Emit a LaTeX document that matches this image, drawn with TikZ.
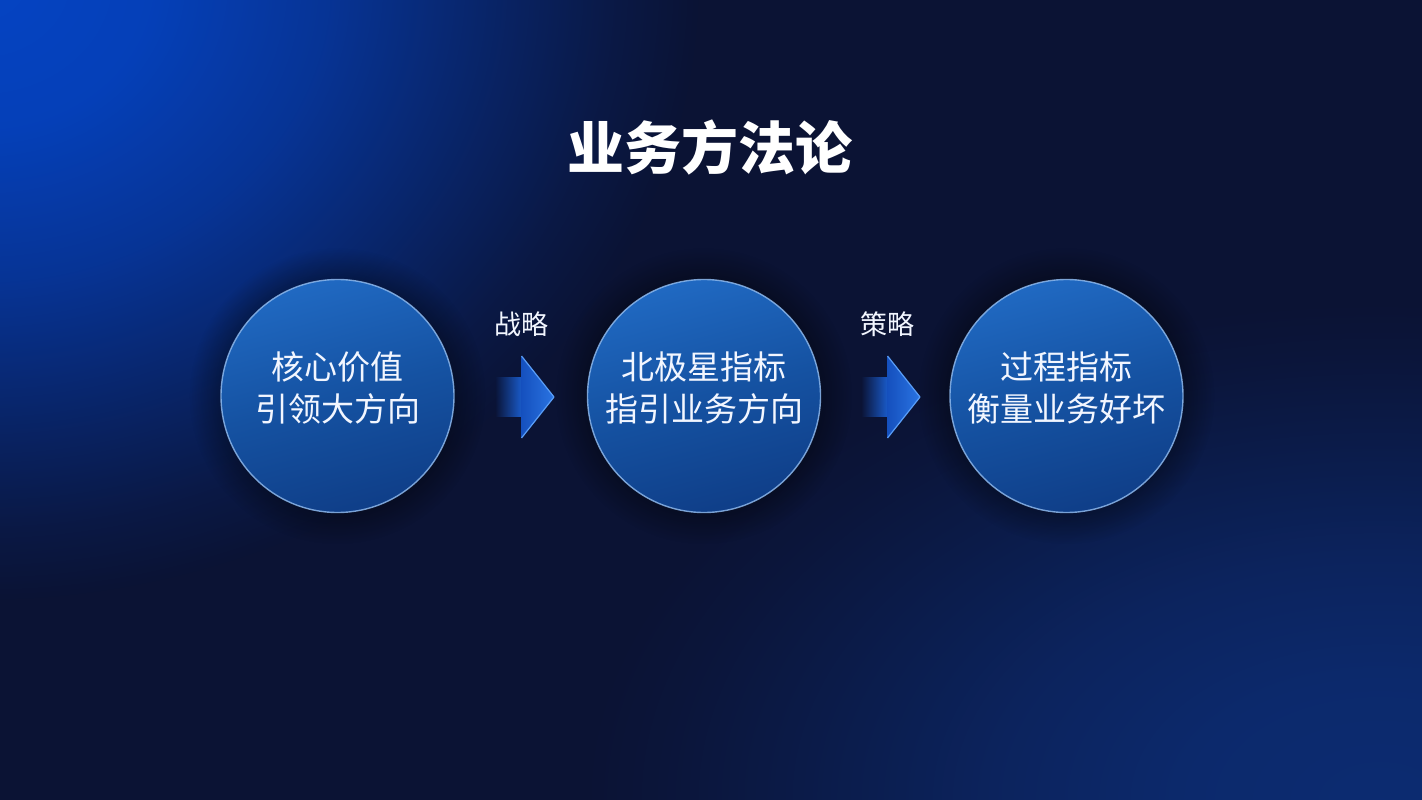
\documentclass[tikz,border=0pt]{standalone}
\usepackage{fontspec}
\newfontfamily\cjk{Noto Sans CJK SC}
\usetikzlibrary{fadings,calc}
\pgfdeclareradialshading{bigglowshade}{\pgfpointorigin}{color(0bp)=(pgftransparent!0); color(6bp)=(pgftransparent!8); color(12bp)=(pgftransparent!32); color(18bp)=(pgftransparent!66); color(22bp)=(pgftransparent!88); color(25bp)=(pgftransparent!100); color(50bp)=(pgftransparent!100)}
\pgfdeclarefading{bigglow}{\pgfuseshading{bigglowshade}}
\tikzfading[name=shaftfade, left color=transparent!100, right color=transparent!0]
\definecolor{bgbase}{HTML}{0B1334}
\definecolor{glowA}{HTML}{0544C4}
\definecolor{glowB}{HTML}{0D307C}
\definecolor{bubtop}{HTML}{2069C2}
\definecolor{bubmid}{HTML}{1552A2}
\definecolor{bubbot}{HTML}{0F3E88}
\definecolor{rimblue}{HTML}{8DB8EC}
\definecolor{arrowblue}{HTML}{1A5CCC}
\definecolor{arrowdark}{HTML}{1550BE}
\definecolor{arrowlight}{HTML}{2A74E2}
\definecolor{rimarrow}{HTML}{5A9EF8}
\definecolor{softwhite}{HTML}{F2F6FF}
\newcommand{\flowarrow}[1]{%
  \fill[arrowblue, path fading=shaftfade] ($(#1)+(-31,-20)$) rectangle ($(#1)+(-4,20)$);
  \fill[left color=arrowdark, right color=arrowlight] ($(#1)+(-4.5,-41)$) -- ($(#1)+(28,0)$) -- ($(#1)+(-4.5,41)$) -- cycle;
  \draw[rimarrow, line width=1.2pt, line join=round] ($(#1)+(-4.5,-41)$) -- ($(#1)+(28,0)$) -- ($(#1)+(-4.5,41)$);
}
\begin{document}
\begin{tikzpicture}[x=1pt,y=-1pt,
  bubble/.style={circle, minimum size=233pt, inner sep=0pt, draw=rimblue, draw opacity=0.85, line width=1.4pt,
    top color=bubtop, bottom color=bubbot, middle color=bubmid, shading angle=15},
  bubtext/.style={text=softwhite, align=center, font=\cjk\fontsize{33}{42}\selectfont, inner sep=0pt},
  titletext/.style={text=white, font=\cjk\bfseries\fontsize{57}{60}\selectfont, inner sep=0pt},
  steptext/.style={text=softwhite, font=\cjk\fontsize{27}{30}\selectfont, inner sep=0pt}]
\useasboundingbox (0,0) rectangle (1422,800);
% background
\fill[bgbase] (0,0) rectangle (1422,800);
\begin{scope}
\clip (0,0) rectangle (1422,800);
\fill[glowA, path fading=bigglow] (-20,-20) ellipse [x radius=720, y radius=620];
\fill[glowB, opacity=0.85, path fading=bigglow] (1380,800) ellipse [x radius=800, y radius=500];
\end{scope}
% shadows
\foreach \p in {(337.5,396),(704,396),(1066.5,396)}
  \fill[black, opacity=0.3, path fading=circle with fuzzy edge 20 percent] \p circle (148);
% circles
\node[bubble] (c1) at (337.5,396) {};
\node[bubble] (c2) at (704,396) {};
\node[bubble] (c3) at (1066.5,396) {};
\node[bubtext] (t1) at ([yshift=8pt]c1.center) {核心价值\\引领大方向};
\node[bubtext] (t2) at ([yshift=8pt]c2.center) {北极星指标\\指引业务方向};
\node[bubtext] (t3) at ([yshift=8pt]c3.center) {过程指标\\衡量业务好坏};
% title
\node[titletext] (title) at (710,147) {业务方法论};
% arrows and labels
\coordinate (a1) at (526,397);
\coordinate (a2) at (892,397);
\flowarrow{a1}
\flowarrow{a2}
\node[steptext] (l1) at (521,324) {战略};
\node[steptext] (l2) at (887,324) {策略};
\end{tikzpicture}
\end{document}
